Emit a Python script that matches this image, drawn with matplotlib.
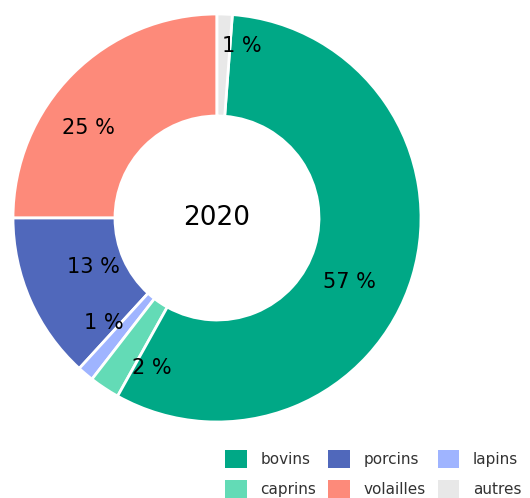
import matplotlib
import numpy as np
import matplotlib.pyplot as plt
from matplotlib.patches import Patch

matplotlib.use('Agg')

# parts drawn counter-clockwise from 12 o'clock
categories = ['volailles', 'porcins', 'lapins', 'caprins', 'bovins', 'autres']
shares = [25.0, 13.2, 1.3, 2.4, 56.9, 1.2]
colors = ['#fd8a7a', '#5068bb', '#9fb4ff', '#63dbb6', '#00a886', '#e8e8e8']
legend_order = ['bovins', 'caprins', 'porcins', 'volailles', 'lapins', 'autres']
year = '2020'

# label placement: angle nudge (deg) and radial distance, so small parts don't collide
label_nudge = [10, -2, -7, 10, -9, -6]
label_dist = [0.77, 0.65, 0.76, 0.80, 0.72, 0.85]

fig = plt.figure(figsize=(5.30, 4.98), dpi=100)
ax = fig.add_axes([13 / 530, 76 / 498, 408 / 530, 408 / 498])

wedges, texts, autotexts = ax.pie(
    shares, colors=colors, startangle=90, counterclock=True,
    autopct='%.0f %%', pctdistance=0.75,
    wedgeprops=dict(width=0.5, edgecolor='white', linewidth=2),
    textprops=dict(fontsize=15, color='black'))
ax.set_xlim(-1, 1)
ax.set_ylim(-1, 1)
ax.set_aspect('equal')

for w, t, dn, r in zip(wedges, autotexts, label_nudge, label_dist):
    ang = np.deg2rad((w.theta1 + w.theta2) / 2 + dn)
    t.set_position((r * np.cos(ang), r * np.sin(ang)))

ax.text(0, 0, year, ha='center', va='center', fontsize=19,
        bbox=dict(facecolor='white', edgecolor='none', alpha=0.8, pad=1))

color_of = dict(zip(categories, colors))
handles = [Patch(facecolor=color_of[c], edgecolor='none', label=c) for c in legend_order]
fig.legend(handles=handles, ncol=3, loc='upper left', bbox_to_anchor=(219 / 530, 1 - 444 / 498),
           frameon=False, fontsize=11, handlelength=1.4, handleheight=1.4,
           columnspacing=0.8, handletextpad=0.9, labelspacing=0.8, borderaxespad=0,
           labelcolor='#333333')

plt.savefig('out.png', dpi=100)
